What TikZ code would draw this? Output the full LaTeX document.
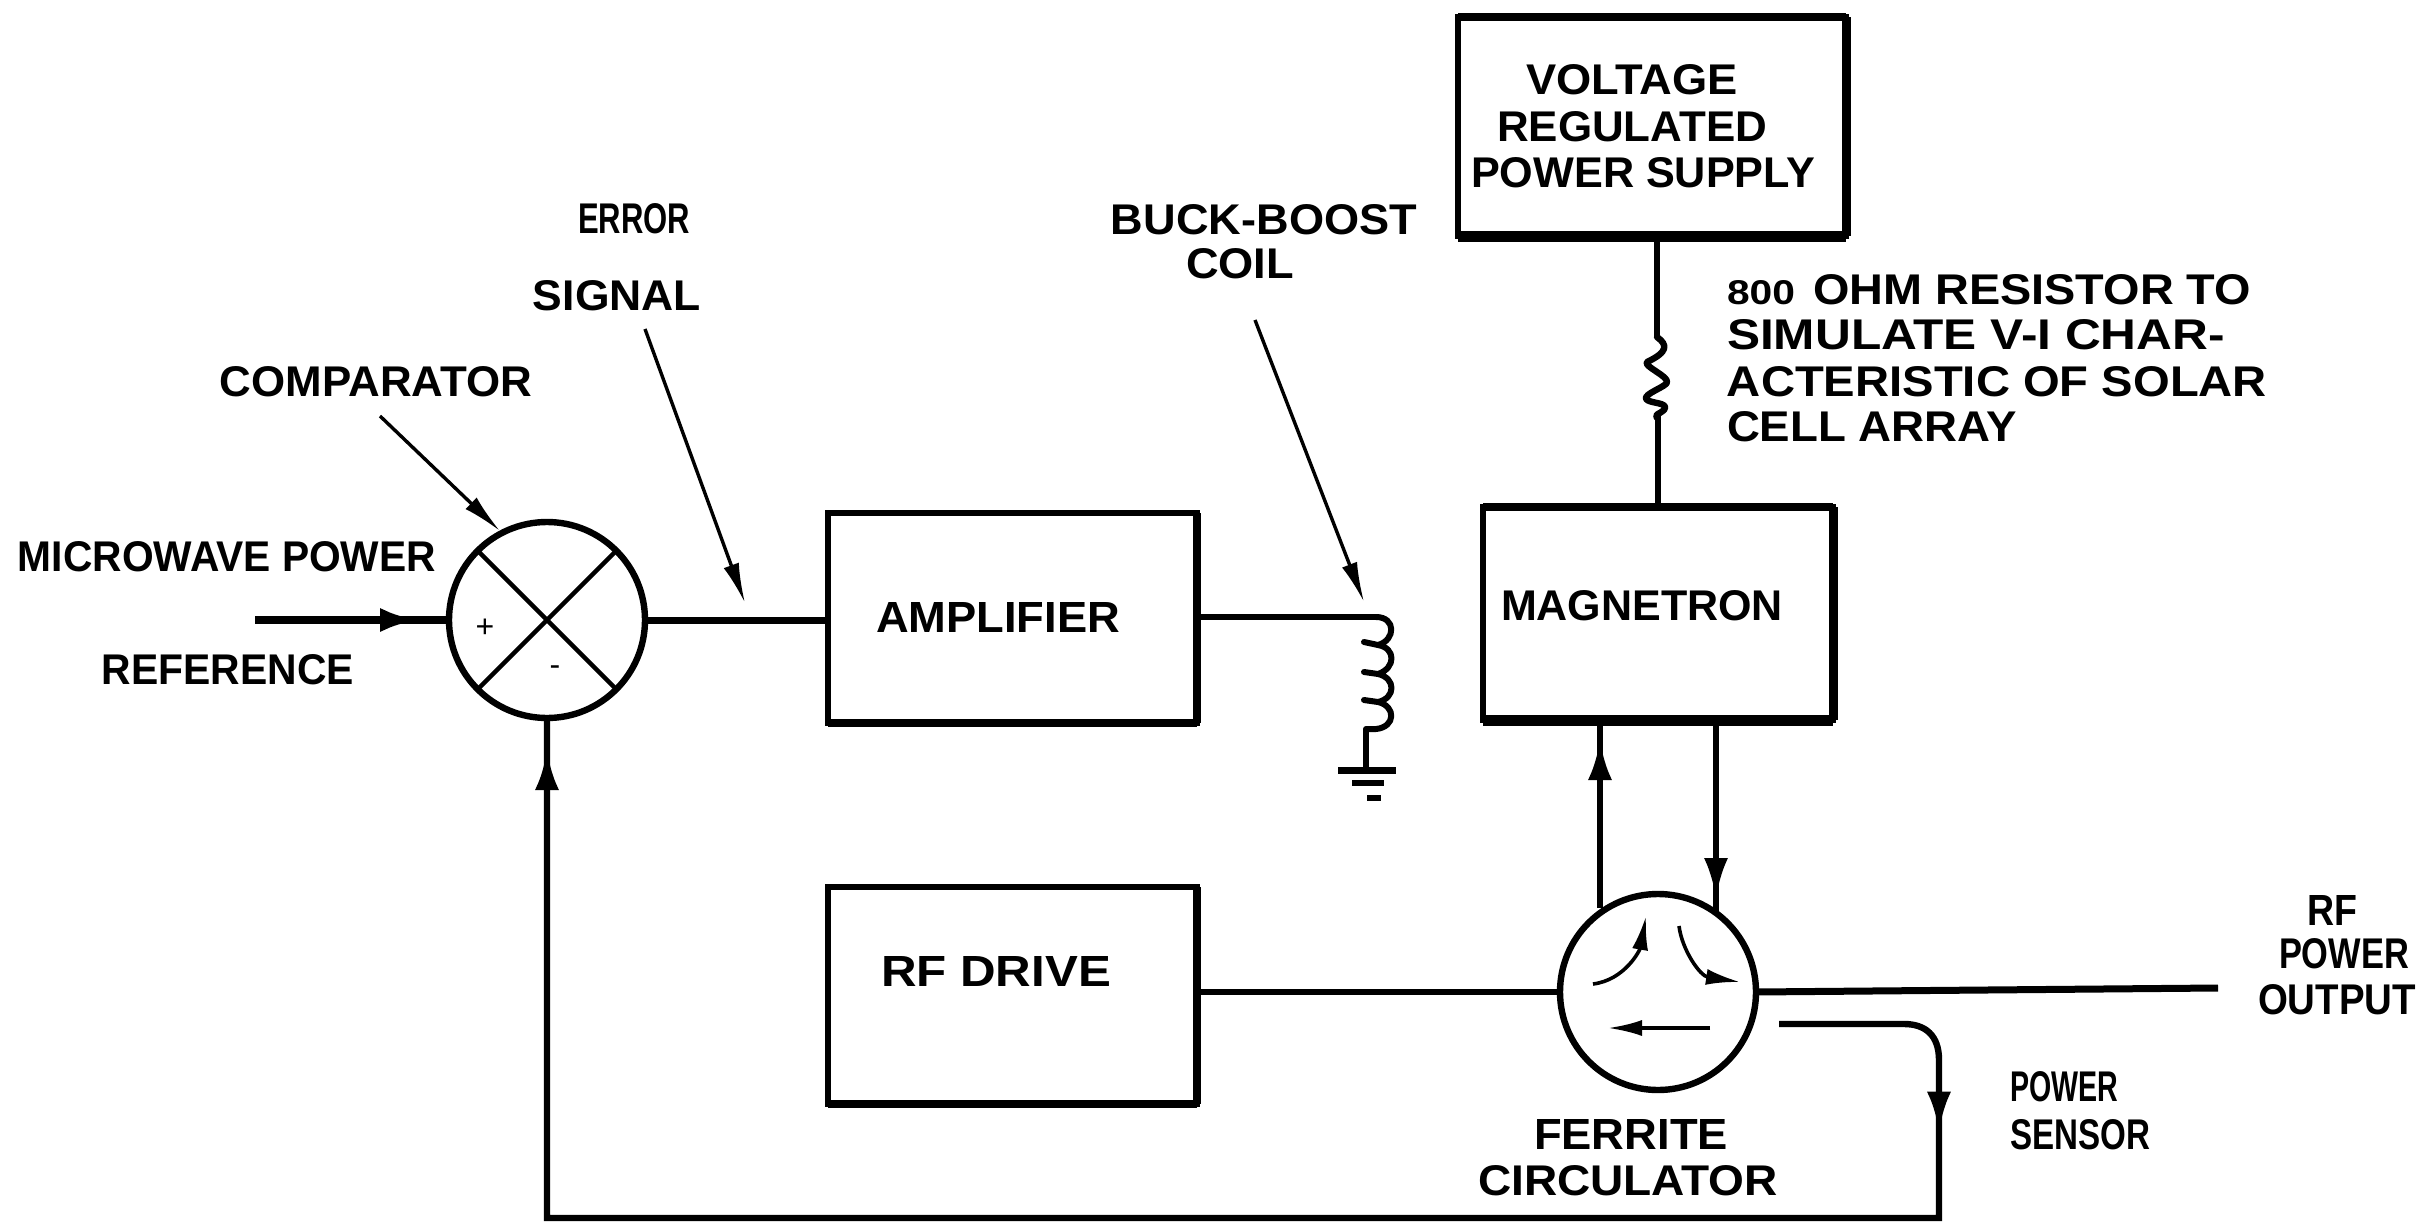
\documentclass[tikz,border=0pt]{standalone}
\usepackage{fontspec}
\usepackage{graphicx}
\setmainfont{Liberation Sans}
\usetikzlibrary{arrows.meta,decorations.markings,calc}
\newcommand{\fitcaps}[2]{\resizebox{#1}{15pt}{\bfseries\fontsize{21}{21}\selectfont #2}}
\tikzset{
  x=0.5pt,y=-0.5pt,
  blockbox/.style={draw=black,line width=3pt,inner sep=0pt,outer sep=0pt,fill=none},
  roundel/.style={draw=black,circle,line width=3.2pt,inner sep=0pt,outer sep=0pt,minimum size=98pt},
  lab/.style={inner sep=0pt,outer sep=0pt,anchor=center},
  wire/.style={draw=black,line width=3pt},
  heavy/.style={draw=black,line width=5.5pt,line cap=butt},
  pointer/.style={draw=black,line width=1.7pt,-{Latex[length=20pt,width=8pt]}},
  innerarrow/.style={draw=black,line width=1.8pt,-{Latex[length=17pt,width=8pt]}},
  midarrow/.style={postaction={decorate,decoration={markings,mark=at position #1 with {\arrow{Latex[length=20pt,width=12pt]}}}}},
}
\begin{document}
\begin{tikzpicture}
\useasboundingbox (0,0) rectangle (2432,1226);
\fill[white] (0,0) rectangle (2432,1226);

% blocks
\node[blockbox,minimum width=194pt,minimum height=109.5pt] (supply) at (1652,126.5) {};
\node[blockbox,minimum width=175pt,minimum height=106.5pt] (mag) at (1658,613.5) {};
\node[blockbox,minimum width=184.5pt,minimum height=105pt] (amp) at (1012.5,618) {};
\node[blockbox,minimum width=184.5pt,minimum height=108.5pt] (drive) at (1012.5,995.5) {};
\node[roundel] (comp) at (547,620) {};
\node[roundel] (circ) at (1658,992) {};

% heavier printed sides
\draw[heavy] (supply.south west) -- (supply.south east);
\draw[heavy,line width=4.5pt] (supply.north east) -- (supply.south east);
\draw[heavy,line width=4pt] (supply.north west) -- (supply.north east);
\draw[heavy] (mag.south west) -- (mag.south east);
\draw[heavy,line width=4.5pt] (mag.north east) -- (mag.south east);
\draw[heavy,line width=4pt] (mag.north west) -- (mag.north east);
\draw[heavy,line width=4pt] (amp.south west) -- (amp.south east);
\draw[heavy,line width=4pt] (amp.north east) -- (amp.south east);
\draw[heavy,line width=4pt] (drive.south west) -- (drive.south east);
\draw[heavy,line width=4pt] (drive.north east) -- (drive.south east);

% comparator
\draw[line width=2.2pt] (comp.north west) -- (comp.south east);
\draw[line width=2.2pt] (comp.north east) -- (comp.south west);
\node[lab,font=\fontsize{16}{16}\selectfont] (plus) at (485,628) {+};
\node[lab,font=\fontsize{16}{16}\selectfont] (minus) at (555,671) {-};

% coordinates for free ends
\coordinate (refin) at (255,620);
\coordinate (compfrom) at (380,416);
\coordinate (compto) at (500,531);
\coordinate (errfrom) at (645,329);
\coordinate (errto) at (745,603);
\coordinate (buckfrom) at (1255,320);
\coordinate (buckto) at (1364,602);
\coordinate (coiltop) at (1376,617);
\coordinate (coilend) at (1366,729);
\coordinate (gnda) at (1338,770);
\coordinate (gndb) at (1396,770);
\coordinate (gndc) at (1352,783);
\coordinate (gndd) at (1384,783);
\coordinate (gnde) at (1367,798);
\coordinate (gndf) at (1381,798);
\coordinate (rtop) at (1657,337);
\coordinate (rbot) at (1657,418);
\coordinate (outend) at (2218,988);
\coordinate (sensestart) at (1779,1024);
\coordinate (upfoot) at (1600,908);
\coordinate (uptop) at (1600,720);
\coordinate (dntop) at (1716,720);
\coordinate (dnfoot) at (1716,914);

% connectors
\draw[wire,line width=4pt,midarrow=82.5pt] (refin) -- (comp.west);
\draw[wire,line width=3.5pt] (comp.east) -- (comp.east -| amp.west);
\draw[pointer] (compfrom) -- (compto);
\draw[pointer] (errfrom) -- (errto);
\draw[pointer] (buckfrom) -- (buckto);
\draw[wire] (amp.east |- coiltop) -- (coiltop);

% coil
\draw[wire,line cap=round,line join=round]
  (coiltop) .. controls (1396,617) and (1396,640) .. (1378,645) -- (1364,642)
  (1364,642) -- (1378,645) .. controls (1396,648) and (1396,668) .. (1378,674) -- (1364,672)
  (1364,672) -- (1378,674) .. controls (1396,678) and (1396,698) .. (1378,702) -- (1364,700)
  (1364,700) -- (1378,702) .. controls (1396,706) and (1396,727) .. (1376,729) -- (coilend);
\draw[wire] (coilend) -- (coilend |- gnda);
\draw[wire,line width=3.5pt] (gnda) -- (gndb);
\draw[wire,line width=3pt] (gndc) -- (gndd);
\draw[wire,line width=3pt] (gnde) -- (gndf);

% resistor
\draw[wire,line width=2.8pt] (supply.south -| rtop) -- (rtop);
\draw[wire,line width=3.2pt,line join=round,line cap=round] (rtop)
  .. controls (1668,345) and (1668,352) .. (1647,362)
  .. controls (1643,366) and (1668,376) .. (1667,382)
  .. controls (1668,386) and (1643,394) .. (1646,399)
  .. controls (1650,404) and (1670,402) .. (1664,410)
  .. controls (1660,414) and (1654,414) .. (rbot);
\draw[wire,line width=2.8pt] (rbot) -- (mag.north |- rbot) -- (mag.north);

% magnetron and circulator
\draw[wire,midarrow=84pt] (upfoot) -- (uptop);
\draw[wire,line width=2.8pt,midarrow=89pt] (dntop) -- (dnfoot);
\draw[wire] (drive.east |- circ.west) -- (circ.west);
\draw[wire,line width=3.5pt] (circ.east) -- (outend);
\draw[innerarrow] (1593,984) .. controls (1625,980) and (1640,950) .. (1646,916);
\draw[innerarrow] (1679,926) .. controls (1682,950) and (1700,976) .. (1740,982);
\draw[innerarrow] (1710,1028) -- (1608,1028);

% feedback
\draw[wire,line width=3.2pt,midarrow=127pt,midarrow=-16pt]
  (sensestart) -- (1904,1024) .. controls (1925,1024) and (1939,1035) .. (1939,1060)
  -- (1939,1218) -- (comp.south |- 0,1218) -- (comp.south);

% labels
\node[lab] (tvolt) at (1632,80) {\fitcaps{106pt}{VOLTAGE}};
\node[lab] (treg) at (1632,127) {\fitcaps{135pt}{REGULATED}};
\node[lab] (tpow) at (1643,173) {\fitcaps{172pt}{POWER SUPPLY}};
\node[lab] (tbuck) at (1264,220) {\fitcaps{153pt}{BUCK-BOOST}};
\node[lab] (tcoil) at (1240,264) {\fitcaps{54pt}{COIL}};
\node[lab,anchor=base west] (tr1) at (1727,304) {\resizebox{34pt}{12pt}{\bfseries\fontsize{21}{21}\selectfont 800}\hspace{9pt}\fitcaps{219pt}{OHM RESISTOR TO}};
\node[lab] (tr2) at (1976,335) {\fitcaps{249pt}{SIMULATE V-I CHAR-}};
\node[lab] (tr3) at (1997,382) {\fitcaps{270pt}{ACTERISTIC OF SOLAR}};
\node[lab] (tr4) at (1872,427) {\fitcaps{145pt}{CELL ARRAY}};
\node[lab] (terr) at (634,219) {\fitcaps{56pt}{ERROR}};
\node[lab] (tsig) at (617,296) {\fitcaps{84pt}{SIGNAL}};
\node[lab] (tcmp) at (376,382) {\fitcaps{156pt}{COMPARATOR}};
\node[lab] (tmic) at (227,557) {\fitcaps{209pt}{MICROWAVE POWER}};
\node[lab] (tref) at (228,670) {\fitcaps{126pt}{REFERENCE}};
\node[lab] (tamp) at (998,617) {\fitcaps{122pt}{AMPLIFIER}};
\node[lab] (tmag) at (1642,606) {\fitcaps{141pt}{MAGNETRON}};
\node[lab] (tdrv) at (996,971) {\fitcaps{115pt}{RF DRIVE}};
\node[lab] (trf) at (2332,910) {\fitcaps{25pt}{RF}};
\node[lab] (tpo) at (2344,954) {\fitcaps{65pt}{POWER}};
\node[lab] (tou) at (2337,1000) {\fitcaps{79pt}{OUTPUT}};
\node[lab] (tsp) at (2064,1087) {\fitcaps{54pt}{POWER}};
\node[lab] (tss) at (2080,1135) {\fitcaps{70pt}{SENSOR}};
\node[lab] (tfer) at (1631,1134) {\fitcaps{97pt}{FERRITE}};
\node[lab] (tcir) at (1628,1181) {\fitcaps{150pt}{CIRCULATOR}};
\end{tikzpicture}
\end{document}
